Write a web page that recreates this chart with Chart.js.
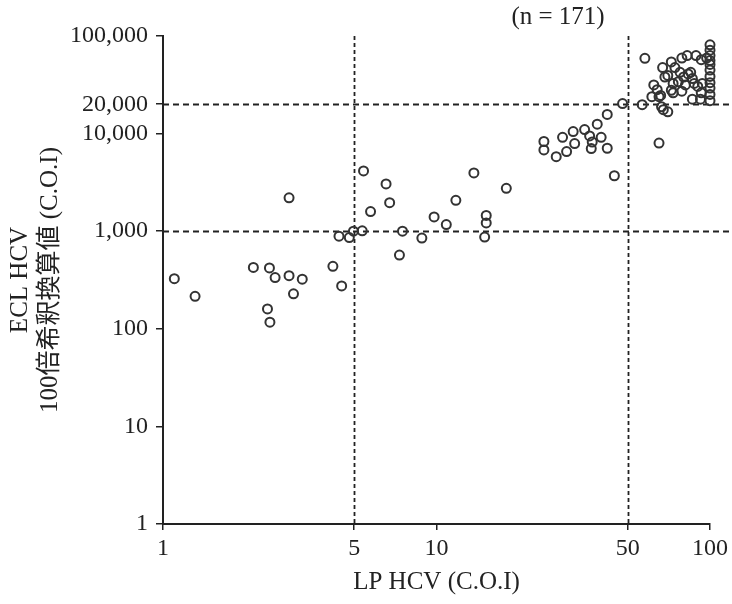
<!DOCTYPE html>
<html>
<head>
<meta charset="utf-8">
<script src="https://cdn.jsdelivr.net/npm/chart.js@4"></script>
<style>
  body { margin: 0; background: #fff; }
</style>
</head>
<body>
<canvas id="lpEcl" width="732" height="604"></canvas>
<script>
// LP HCV (x) vs ECL HCV 100倍希釈換算値 (y)
const lpHcv = [
  1.1, 1.31, 2.14, 2.45, 2.57, 2.89, 3.23, 3.0, 2.41, 2.46, 2.89, 4.18, 4.5, 4.4, 4.8, 4.97,
  5.35, 5.41, 5.74, 6.54, 6.74, 7.51, 7.32, 8.84, 9.8,
  10.86, 11.77, 13.7, 15.2, 15.2, 15.0, 18.0, 24.7, 24.7, 27.4, 29.9, 28.9, 31.6, 32.0, 34.8,
  36.3, 37.1, 36.8, 40.0, 38.7, 42.1, 42.1, 47.9, 44.7,
  56.5, 57.8, 65.1, 66.5, 67.5, 70.1, 61.3, 66.0, 62.3, 64.1, 67.1, 72.2, 74.4, 70.1, 77.7,
  78.9, 82.5, 88.9, 92.9, 97.2, 85.0, 86.2, 80.1, 76.6, 73.3, 81.3, 73.3, 78.9, 90.2, 92.9,
  86.2, 92.3, 87.5, 93.7, 68.4, 72.2, 65.1, 83.2,
  100, 100, 100, 100, 100, 100, 100, 100, 100, 100, 100
];
const eclHcv = [
  326, 215, 425, 420, 335, 350, 322, 228, 160, 117, 2200, 437, 275, 890, 860, 1000,
  1010, 4150, 1590, 3050, 1960, 1000, 570, 850, 1400,
  1170, 2070, 3950, 1450, 1215, 870, 2750, 8300, 6800, 5800, 6550, 9150, 10500, 7900, 11000,
  9470, 8200, 7030, 9150, 12500, 7080, 15700, 20300, 3700,
  19800, 59000, 8000, 18800, 17600, 16700, 23900, 24600, 31500, 28200, 47500, 54300, 47500, 39400, 42500,
  59400, 63000, 63000, 57200, 59400, 42500, 36600, 38000, 34000, 32700, 31500, 26200, 27200, 30400, 26200,
  22500, 22500, 32700, 32700, 38000, 27800, 23900, 40900,
  81200, 71500, 63000, 55950, 51150, 44720, 38500, 33240, 29250, 25180, 21730
];

const xTicks = [1, 5, 10, 50, 100];
const yTicks = [1, 10, 100, 1000, 10000, 20000, 100000];
const cutX = [5, 50];
const cutY = [1000, 20000];

const ink = '#222';
const serif = "'Liberation Serif', 'DejaVu Serif', 'Noto Sans CJK JP', serif";

// dashed cut-off lines + the (n = 171) note
const cutLines = {
  id: 'cutLines',
  beforeDatasetsDraw(chart) {
    const {ctx, chartArea, scales} = chart;
    ctx.save();
    ctx.strokeStyle = ink;
    ctx.lineWidth = 1.8;
    ctx.setLineDash([6, 4]);
    cutY.forEach(v => {
      const py = Math.round(scales.y.getPixelForValue(v)) + 0.5;
      ctx.beginPath();
      ctx.moveTo(chartArea.left, py);
      ctx.lineTo(chart.width, py);
      ctx.stroke();
    });
    ctx.setLineDash([4, 3]);
    cutX.forEach(v => {
      const px = Math.round(scales.x.getPixelForValue(v)) + 0.5;
      ctx.beginPath();
      ctx.moveTo(px, chartArea.top);
      ctx.lineTo(px, chartArea.bottom);
      ctx.stroke();
    });
    ctx.restore();
  },
  afterDraw(chart) {
    const {ctx, chartArea} = chart;
    ctx.save();
    ctx.fillStyle = ink;
    ctx.font = '25px ' + serif;
    ctx.textAlign = 'center';
    ctx.textBaseline = 'middle';
    ctx.fillText('(n = 171)', chartArea.right - 152, chartArea.top - 19);
    ctx.restore();
  }
};

new Chart(document.getElementById('lpEcl').getContext('2d'), {
  type: 'scatter',
  data: {
    datasets: [{
      data: lpHcv.map((x, i) => ({x: x, y: eclHcv[i]})),
      clip: false,
      pointStyle: 'circle',
      pointRadius: 4.5,
      pointBorderWidth: 2,
      borderColor: '#333',
      backgroundColor: 'rgba(0,0,0,0)'
    }]
  },
  options: {
    responsive: false,
    animation: false,
    events: [],
    layout: { padding: { top: 36, right: 22, left: 0, bottom: 0 } },
    plugins: {
      legend: { display: false },
      tooltip: { enabled: false }
    },
    scales: {
      x: {
        type: 'logarithmic',
        min: 1,
        max: 100,
        afterBuildTicks: s => { s.ticks = xTicks.map(v => ({value: v})); },
        afterFit: s => { s.height = 80; },
        border: { display: true, color: ink, width: 2 },
        grid: { drawOnChartArea: false, drawTicks: true, tickLength: 6, color: ink, lineWidth: 1.5 },
        ticks: {
          autoSkip: false,
          maxRotation: 0,
          padding: 4,
          color: ink,
          font: { family: serif, size: 24 },
          callback: v => String(v)
        },
        title: {
          display: true,
          text: 'LP HCV (C.O.I)',
          color: ink,
          padding: { top: 0, bottom: 7 },
          font: { family: serif, size: 25, lineHeight: 1.2 }
        }
      },
      y: {
        type: 'logarithmic',
        min: 1,
        max: 100000,
        afterBuildTicks: s => { s.ticks = yTicks.map(v => ({value: v})); },
        afterFit: s => { s.width = 163; },
        border: { display: true, color: ink, width: 2 },
        grid: { drawOnChartArea: false, drawTicks: true, tickLength: 7, color: ink, lineWidth: 1.5 },
        ticks: {
          autoSkip: false,
          padding: 8,
          color: ink,
          font: { family: serif, size: 24 },
          callback: v => v.toLocaleString('en-US')
        },
        title: {
          display: true,
          text: ['ECL HCV', '100倍希釈換算値 (C.O.I)'],
          color: ink,
          padding: { top: 5, bottom: 0 },
          font: { family: serif, size: 25, lineHeight: 1.2 }
        }
      }
    }
  },
  plugins: [cutLines]
});
</script>
</body>
</html>
